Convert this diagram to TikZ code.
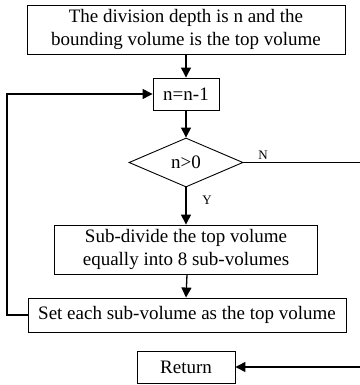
\documentclass[tikz,border=0pt]{standalone}
\usepackage{fontspec}
\setmainfont{Liberation Serif}
\usetikzlibrary{shapes.geometric,arrows.meta}
\begin{document}
\begin{tikzpicture}[x=1pt,y=-1pt,
  box/.style={draw,line width=0.9pt,inner sep=0pt,align=center,font=\fontsize{19}{23}\selectfont},
  dia/.style={draw,diamond,line width=0.9pt,inner sep=0pt,font=\fontsize{19}{23}\selectfont},
  conn/.style={line width=1.3pt},
  arr/.style={conn,-{Triangle[length=10pt,width=10pt]}},
  lbl/.style={font=\fontsize{13}{15}\selectfont,inner sep=0pt}]
\useasboundingbox (0,0) rectangle (359,385);
\node[box,minimum width=318pt,minimum height=49pt] (top) at (186,29.5) {The division depth is n and the\\bounding volume is the top volume};
\node[box,minimum width=66pt,minimum height=32pt] (n1) at (186,94) {n=n-1};
\node[dia,minimum width=114pt,minimum height=49pt] (d) at (186,162.5) {n>0};
\node[box,minimum width=263pt,minimum height=49pt] (sub) at (186,249.5) {Sub-divide the top volume\\equally into 8 sub-volumes};
\node[box,minimum width=318pt,minimum height=34pt] (set) at (187,315) {Set each sub-volume as the top volume};
\node[box,minimum width=98pt,minimum height=32pt] (ret) at (186,367) {Return};
\coordinate (lc) at (7,315);
\coordinate (rc) at (372,162.5);
\draw[arr] (top) -- (n1);
\draw[arr] (n1) -- (d);
\draw[arr] (d) -- (sub);
\draw[arr] (sub.south -| set.north) ++(0,0) -- (set.north -| sub.south);
\draw[arr] (set.west) -- (lc) |- (n1.west);
\draw[arr] (d.east) -- (rc) |- (ret.east);
\node[lbl] (ylab) at (207,200) {Y};
\node[lbl] (nlab) at (263,155) {N};
\end{tikzpicture}
\end{document}
